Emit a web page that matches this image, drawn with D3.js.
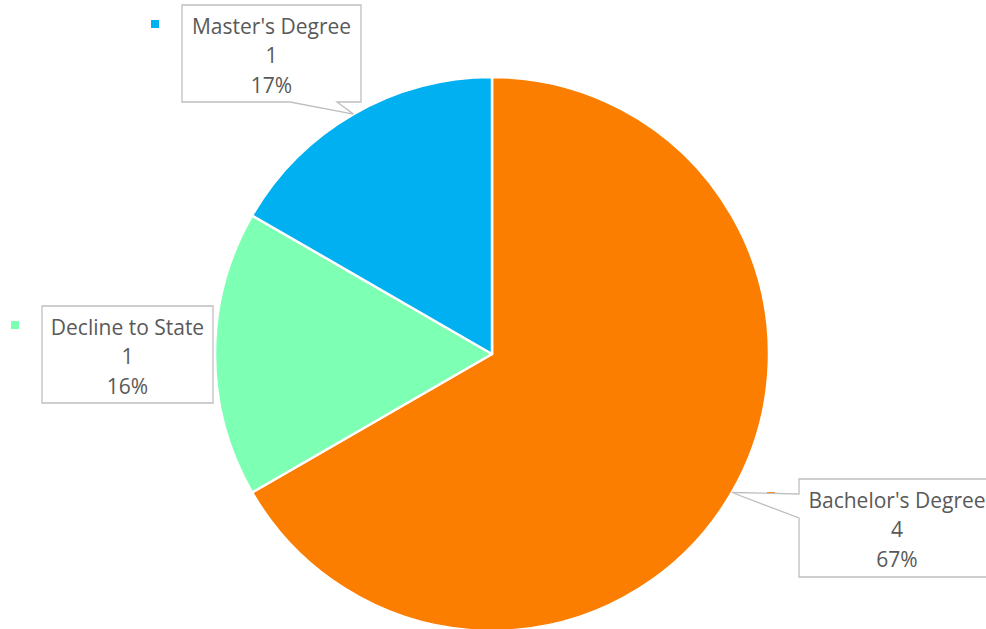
<!DOCTYPE html>
<html>
<head>
<meta charset="utf-8">
<script src="https://cdn.jsdelivr.net/npm/d3@7"></script>
<style>
  html, body { margin: 0; padding: 0; background: #fff; }
  svg { display: block; }
  text { font-family: "Open Sans", Lato, sans-serif; fill: #595959; }
</style>
</head>
<body>
<svg id="chart" width="986" height="629"></svg>
<script>
// Education level breakdown
const categories = ["Bachelor's Degree", "Decline to State", "Master's Degree"];
const counts = [4, 1, 1];
const percentLabels = ["67%", "16%", "17%"];
const colors = ["#FC7E00", "#7DFFB4", "#00B0F0"];

const width = 986, height = 629;
const cx = 492, cy = 354, radius = 277;

const svg = d3.select("#chart");
const g = svg.append("g").attr("transform", `translate(${cx},${cy})`);

const pie = d3.pie().sort(null).value(d => d.count).startAngle(0).endAngle(2 * Math.PI);
const data = categories.map((c, i) => ({ name: c, count: counts[i], pct: percentLabels[i], color: colors[i] }));
const arcs = pie(data);
const arc = d3.arc().innerRadius(0).outerRadius(radius);

g.selectAll("path.slice")
  .data(arcs)
  .join("path")
  .attr("class", "slice")
  .attr("d", arc)
  .attr("fill", d => d.data.color)
  .attr("stroke", "#fff")
  .attr("stroke-width", 2.5)
  .attr("stroke-linejoin", "round");

// Callout boxes (page coordinates) for each slice label
const boxes = [
  { x: 799, y: 479, w: 196, h: 98, side: "left" },
  { x: 42, y: 306, w: 171, h: 97, side: "none" },
  { x: 182, y: 5, w: 179, h: 97, side: "bottom" }
];

const labels = svg.append("g");

arcs.forEach((a, i) => {
  const b = boxes[i];
  const mid = (a.startAngle + a.endAngle) / 2;
  const [tx, ty] = d3.pointRadial(mid, radius);
  const tipX = cx + tx, tipY = cy + ty;

  // legend marker beside the label
  const mk = i === 0 ? { x: b.x - 32, y: b.y + 13 } : { x: b.x - 31, y: b.y + 15 };
  labels.append("rect")
    .attr("x", mk.x).attr("y", mk.y).attr("width", 8).attr("height", 8)
    .attr("fill", colors[i]);

  let pts;
  if (b.side === "left") {
    pts = [[b.x, b.y], [b.x + b.w, b.y], [b.x + b.w, b.y + b.h], [b.x, b.y + b.h],
           [b.x, b.y + 39], [tipX, tipY], [b.x, b.y + 15]];
  } else if (b.side === "bottom") {
    pts = [[b.x, b.y], [b.x + b.w, b.y], [b.x + b.w, b.y + b.h], [b.x + 155, b.y + b.h],
           [tipX, tipY], [b.x + 108, b.y + b.h], [b.x, b.y + b.h]];
  } else {
    pts = [[b.x, b.y], [b.x + b.w, b.y], [b.x + b.w, b.y + b.h], [b.x, b.y + b.h]];
  }
  labels.append("path")
    .attr("d", d3.line()(pts) + "Z")
    .attr("fill", "#fff")
    .attr("stroke", "#bfbfbf")
    .attr("stroke-width", 1.3);

  const tcx = i === 0 ? 897 : b.x + b.w / 2;
  const lines = [categories[i], String(counts[i]), percentLabels[i]];
  lines.forEach((t, j) => {
    labels.append("text")
      .attr("x", tcx)
      .attr("y", b.y + 28.5 + j * 29.5)
      .attr("text-anchor", "middle")
      .attr("font-size", 21)
      .text(t);
  });
});
</script>
</body>
</html>
